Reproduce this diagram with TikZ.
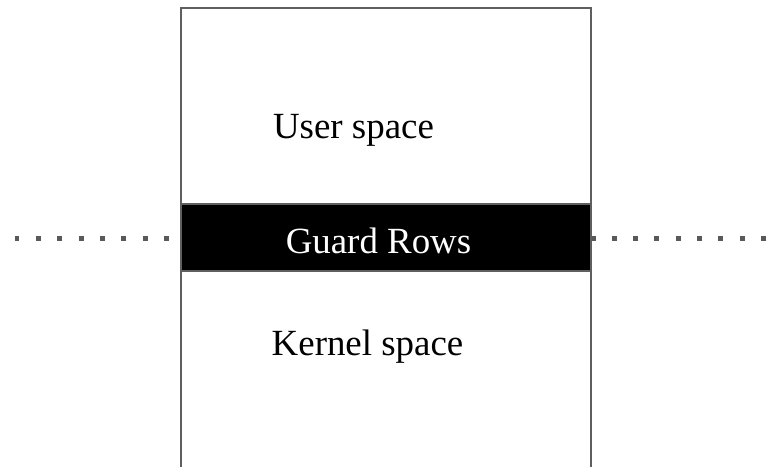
\documentclass[tikz,border=0pt]{standalone}
\usepackage{fontspec}
\setmainfont{Liberation Serif}
\definecolor{edge}{HTML}{5F5F5F}
\definecolor{dotc}{HTML}{595959}
\tikzset{
  label/.style={anchor=base,inner sep=0pt,font=\fontsize{21}{25}\selectfont},
  wall/.style={edge,line width=0.04cm}
}

\begin{document}
\begin{tikzpicture}[x=0.02cm,y=-0.02cm]
  \useasboundingbox (0,0) rectangle (769,467);
  % dotted boundary either side
  \foreach \k in {0,...,7}
    \fill[dotc] ({17+21.35*\k-2.5},235.5) rectangle ++(5,5);
  \foreach \k in {0,...,8}
    \fill[dotc] ({593+21.3*\k-2.5},235.5) rectangle ++(5,5);
  % guard band
  \fill[black] (181,204) rectangle (591,271);
  \draw[wall] (181,204) -- (591,204);
  \draw[wall] (181,271) -- (591,271);
  % open column
  \draw[wall] (181,470) -- (181,8) -- (591,8) -- (591,470);
  \node[label] (user) at (353.5,138) {User space};
  \node[label,text=white] (guard) at (378.5,253) {Guard Rows};
  \node[label] (kernel) at (367.5,355) {Kernel space};
\end{tikzpicture}
\end{document}
